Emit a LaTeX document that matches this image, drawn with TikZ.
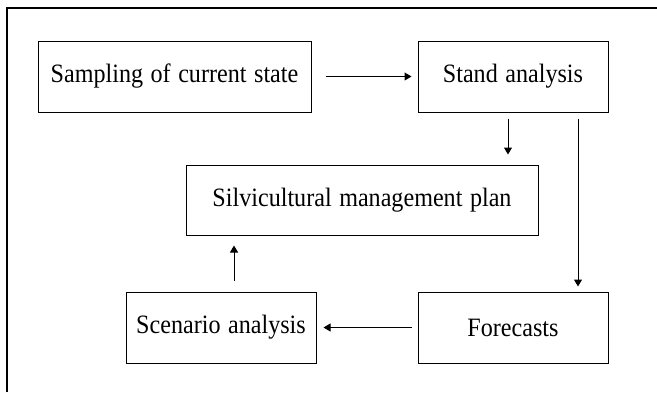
\documentclass[tikz,border=0pt]{standalone}
\usepackage{fontspec}
\setmainfont{Liberation Serif}[FakeStretch=0.91,WordSpace=1.25]
\usepackage{tikz}
\usetikzlibrary{positioning,calc,arrows.meta}

\begin{document}
\begin{tikzpicture}[x=1pt,y=-1pt,
	every node/.style={font=\fontsize{26.5}{30}\selectfont},
	box/.style={draw,line width=1pt,minimum height=71pt,inner sep=0pt},
	flow/.style={-{Triangle[length=7pt,width=8pt]},line width=1pt}]
		\useasboundingbox (0,0) rectangle (657,392);
		\draw[line width=1.6pt] (7,392) -- (7,8) -- (657,8);
		%
		\node[box,minimum width=273pt] (samp) at (174.5,76.5) {Sampling of current state};
		\node[box,minimum width=190pt] (stand) at (513,76.5) {Stand analysis};
		\node[box,minimum width=352pt,minimum height=70pt] (silv) at (362,200) {Silvicultural management plan};
		\node[box,minimum width=190pt] (scen) at (221,327.5) {Scenario analysis};
		\node[box,minimum width=190pt] (fore) at (513,327.5) {Forecasts};
		%
		\draw[flow,shorten <=14pt,shorten >=6pt] (samp) -- (stand);
		\draw[flow,shorten <=6pt,shorten >=10pt]
			([xshift=-5pt]stand.south) -- ([xshift=-5pt]stand.south |- silv.north);
		\draw[flow,shorten <=6pt,shorten >=5pt]
			([xshift=65pt]stand.south) -- ([xshift=65pt]stand.south |- fore.north);
		\draw[flow,shorten <=6pt,shorten >=7pt] (fore) -- (scen);
		\draw[flow,shorten <=11pt,shorten >=10pt]
			([xshift=13pt]scen.north) -- ([xshift=13pt]scen.north |- silv.south);
		
	\end{tikzpicture}
\end{document}
